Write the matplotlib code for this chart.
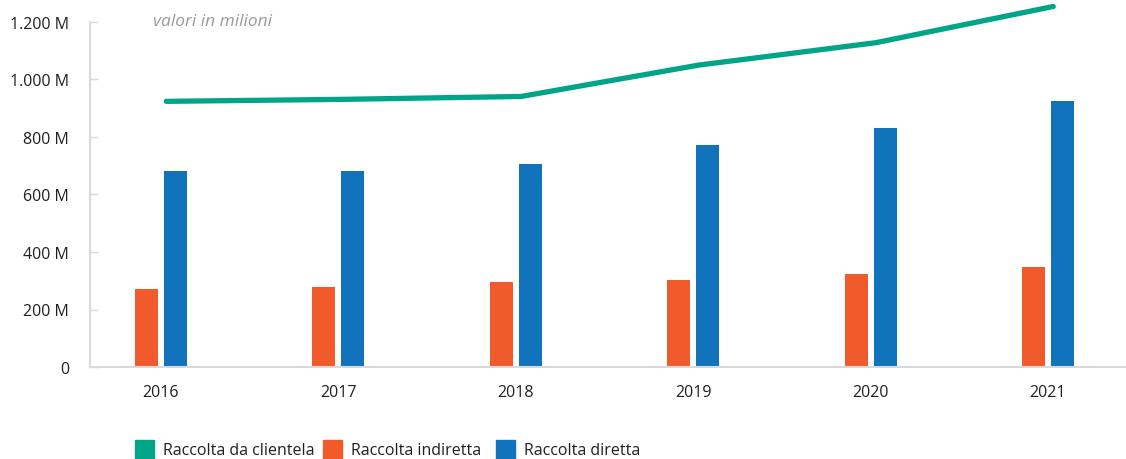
import numpy as np
import matplotlib.pyplot as plt
from matplotlib.patches import Rectangle

# data (valori in milioni)
years = ["2016", "2017", "2018", "2019", "2020", "2021"]
raccolta_clientela = [924, 931, 941, 1050, 1128, 1254]
raccolta_indiretta = [270, 277, 294, 304, 325, 349]
raccolta_diretta = [682, 682, 706, 771, 832, 924]

green = "#00a588"
orange = "#f15a2b"
blue = "#1173bb"
grid_grey = "#d9d9d9"
text_col = "#231f20"

plt.rcParams['font.family'] = ['Open Sans', 'DejaVu Sans']

W, H = 1126, 460
fig = plt.figure(figsize=(W / 100, H / 100), dpi=100)
ax = fig.add_axes([90 / W, 1 - 368 / H, 1 - 90 / W, (368 - 23) / H])

x = np.arange(len(years))
w = 23 / 177.5
gap = 6 / 177.5
ax.bar(x - (w + gap) / 2, raccolta_indiretta, width=w, color=orange, zorder=2)
ax.bar(x + (w + gap) / 2, raccolta_diretta, width=w, color=blue, zorder=2)
ax.plot(x + 0.03, raccolta_clientela, color=green, lw=3.8,
        solid_capstyle='round', solid_joinstyle='round', zorder=3, clip_on=False)

ax.set_xlim(-0.4, 5.44)
ax.set_ylim(0, 1200)
ax.set_xticks(x)
ax.set_xticklabels(years)
yt = [0, 200, 400, 600, 800, 1000, 1200]
ax.set_yticks(yt)
ax.set_yticklabels(["0"] + [f"{v:,} M".replace(",", ".") for v in yt[1:]])

for s in ["top", "right"]:
    ax.spines[s].set_visible(False)
for s in ["left", "bottom"]:
    ax.spines[s].set_color(grid_grey)
    ax.spines[s].set_linewidth(1.5)
ax.tick_params(axis='y', direction='in', length=6, width=1, color=grid_grey,
               pad=15, labelsize=11.5, labelcolor=text_col)
ax.tick_params(axis='x', length=0, pad=12, labelsize=11.5, labelcolor=text_col)

fig.text(153 / W, 1 - 22 / H, "valori in milioni", fontsize=12.5,
         style='italic', color="#9a9a9a", va='center')

# legend drawn by hand to match the spacing of the original
labels = ["Raccolta da clientela", "Raccolta indiretta", "Raccolta diretta"]
colors = [green, orange, blue]
sq_x = [135, 323, 496]
for lab, col, sx in zip(labels, colors, sq_x):
    fig.patches.append(Rectangle((sx / W, 1 - 460 / H), 19 / W, 19 / H,
                                 transform=fig.transFigure, color=col))
    fig.text((sx + 28) / W, 1 - 451 / H, lab, fontsize=11.5, color=text_col, va='center')

fig.savefig("out.png", dpi=100)
